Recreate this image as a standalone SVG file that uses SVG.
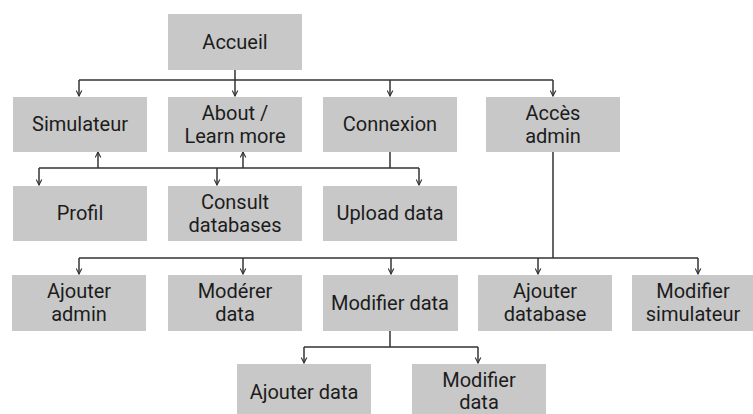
<svg xmlns="http://www.w3.org/2000/svg" width="753" height="414" viewBox="0 0 753 414">
<defs>
<marker id="ah" viewBox="0 0 10 10" refX="9" refY="5" markerWidth="7" markerHeight="7" markerUnits="userSpaceOnUse" orient="auto">
<path d="M1,1 L9,5 L1,9" fill="none" stroke="#333" stroke-width="1.6"/>
</marker>
</defs>
<style>
.box{fill:#c8c8c8}
.t{font-family:Roboto,"Liberation Sans",sans-serif;font-size:20px;fill:#1c1c1c;text-anchor:middle}
.ln{fill:none;stroke:#333;stroke-width:1.5}
.ar{fill:none;stroke:#333;stroke-width:1.5;marker-end:url(#ah)}
</style>
<rect width="753" height="414" fill="#fff"/>
<g id="connectors">
<path class="ln" d="M235,70 V80 M79,80 H553"/>
<path class="ar" d="M79,80 V96"/>
<path class="ar" d="M235,80 V96"/>
<path class="ar" d="M390,80 V96"/>
<path class="ar" d="M553,80 V96"/>
<path class="ln" d="M390,152 V168 M39,168 H419"/>
<path class="ar" d="M39,168 V185"/>
<path class="ar" d="M217,168 V185"/>
<path class="ar" d="M419,168 V185"/>
<path class="ar" d="M98,168 V152"/>
<path class="ar" d="M243,168 V152"/>
<path class="ln" d="M553,152 V258 M79,258 H698"/>
<path class="ar" d="M79,258 V274"/>
<path class="ar" d="M243,258 V274"/>
<path class="ar" d="M391,258 V274"/>
<path class="ar" d="M538,258 V274"/>
<path class="ar" d="M698,258 V274"/>
<path class="ln" d="M390,331 V347 M304,347 H478"/>
<path class="ar" d="M304,347 V363"/>
<path class="ar" d="M478,347 V363"/>
</g>
<g id="accueil"><rect class="box" x="168" y="14" width="134" height="56"/><text class="t" x="235" y="49">Accueil</text></g>
<g id="simulateur"><rect class="box" x="13" y="97" width="134" height="55"/><text class="t" x="80" y="131">Simulateur</text></g>
<g id="about"><rect class="box" x="168" y="97" width="134" height="55"/><text class="t" x="235" y="120">About /</text><text class="t" x="235" y="143">Learn more</text></g>
<g id="connexion"><rect class="box" x="323" y="97" width="134" height="55"/><text class="t" x="390" y="131">Connexion</text></g>
<g id="acces-admin"><rect class="box" x="486" y="97" width="134" height="55"/><text class="t" x="553" y="120">Accès</text><text class="t" x="553" y="143">admin</text></g>
<g id="profil"><rect class="box" x="13" y="186" width="134" height="55"/><text class="t" x="80" y="220">Profil</text></g>
<g id="consult"><rect class="box" x="168" y="186" width="134" height="55"/><text class="t" x="235" y="209">Consult</text><text class="t" x="235" y="232">databases</text></g>
<g id="upload"><rect class="box" x="323" y="186" width="134" height="55"/><text class="t" x="390" y="220">Upload data</text></g>
<g id="ajouter-admin"><rect class="box" x="12" y="275" width="134" height="56"/><text class="t" x="79" y="298">Ajouter</text><text class="t" x="79" y="321">admin</text></g>
<g id="moderer"><rect class="box" x="168" y="275" width="134" height="56"/><text class="t" x="235" y="298">Modérer</text><text class="t" x="235" y="321">data</text></g>
<g id="modifier-data"><rect class="box" x="323" y="275" width="135" height="56"/><text class="t" x="390" y="310">Modifier data</text></g>
<g id="ajouter-database"><rect class="box" x="478" y="275" width="134" height="56"/><text class="t" x="545" y="298">Ajouter</text><text class="t" x="545" y="321">database</text></g>
<g id="modifier-simulateur"><rect class="box" x="632" y="275" width="121" height="56"/><text class="t" x="693" y="298">Modifier</text><text class="t" x="693" y="321">simulateur</text></g>
<g id="ajouter-data"><rect class="box" x="237" y="364" width="134" height="56"/><text class="t" x="304" y="399">Ajouter data</text></g>
<g id="modifier-data2"><rect class="box" x="412" y="364" width="134" height="56"/><text class="t" x="479" y="387">Modifier</text><text class="t" x="479" y="409">data</text></g>
</svg>
